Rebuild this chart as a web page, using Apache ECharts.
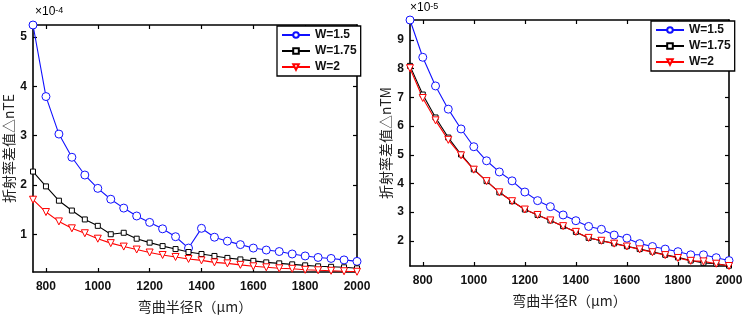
<!DOCTYPE html>
<html><head><meta charset="utf-8">
<script src="https://cdn.jsdelivr.net/npm/echarts@6/dist/echarts.min.js"></script>
<style>html,body{margin:0;padding:0;background:#fff}#c{width:744px;height:315px}</style>
</head><body><div id="c"></div>
<script>
const R = [750,800,850,900,950,1000,1050,1100,1150,1200,1250,1300,1350,1400,1450,1500,1550,1600,1650,1700,1750,1800,1850,1900,1950,2000];
// TE (x1e-4)
const te15 = [5.24,3.79,3.03,2.56,2.20,1.93,1.71,1.53,1.37,1.24,1.11,0.95,0.72,1.12,0.94,0.86,0.79,0.72,0.68,0.65,0.60,0.56,0.53,0.51,0.48,0.45];
const te175 = [2.27,1.97,1.68,1.48,1.30,1.17,1.00,1.03,0.91,0.83,0.76,0.70,0.64,0.60,0.56,0.52,0.49,0.46,0.43,0.41,0.39,0.37,0.35,0.34,0.33,0.31];
const te2 = [1.70,1.45,1.26,1.12,1.02,0.91,0.82,0.75,0.69,0.63,0.58,0.54,0.50,0.47,0.43,0.41,0.38,0.35,0.33,0.31,0.30,0.28,0.27,0.26,0.25,0.24];
// TM (x1e-5)
const tm15 = [9.70,8.40,7.40,6.59,5.90,5.28,4.79,4.40,4.09,3.70,3.40,3.19,2.90,2.70,2.50,2.40,2.20,2.09,1.90,1.80,1.71,1.62,1.51,1.51,1.41,1.31];
const tm175 = [8.10,7.10,6.30,5.60,5.01,4.49,4.08,3.69,3.38,3.09,2.90,2.71,2.51,2.31,2.10,2.00,1.91,1.81,1.71,1.62,1.51,1.42,1.31,1.23,1.20,1.13];
const tm2 = [8.02,6.98,6.20,5.52,4.98,4.48,4.08,3.69,3.38,3.09,2.90,2.71,2.51,2.31,2.10,2.00,1.90,1.80,1.70,1.60,1.50,1.40,1.30,1.28,1.20,1.12];
const xTicks = [800,1000,1200,1400,1600,1800,2000];
const yTicksTE = [1,2,3,4,5];
const yTicksTM = [2,3,4,5,6,7,8,9];
const names = ['W=1.5','W=1.75','W=2'];
const xName = '弯曲半径R（μm）';
const yNameTE = '折射率差值△nTE';
const yNameTM = '折射率差值△nTM';

const chart = echarts.init(document.getElementById('c'));
const labelFont = {fontFamily:'Liberation Sans', fontSize:12, fontWeight:'bold', color:'#111'};
const lineS = {color:'#000', width:1.6};
function xAx(gi, pos, xmin, xmax){
  const bottom = pos==='bottom';
  return {type:'value', gridIndex:gi, position:pos, min:xmin, max:xmax,
    name: bottom? xName : '', nameLocation:'middle', nameGap:28,
    nameTextStyle:{fontFamily:'Noto Sans CJK SC', fontSize:14, color:'#222'},
    axisLine:{onZero:false, lineStyle:lineS},
    axisTick:{inside:true, length:4, customValues:xTicks, lineStyle:{color:'#000',width:1.2}},
    axisLabel:{show:bottom, customValues:xTicks, margin:9, formatter:v=>String(v), ...labelFont},
    splitLine:{show:false}};
}
function yAx(gi, pos, ymin, ymax, ticks, nm){
  const left = pos==='left';
  return {type:'value', gridIndex:gi, position:pos, min:ymin, max:ymax,
    name: left? nm : '', nameLocation:'middle', nameGap:17, nameRotate:90,
    nameTextStyle:{fontFamily:'Noto Sans CJK SC', fontSize:14, color:'#222'},
    axisLine:{onZero:false, lineStyle:lineS},
    axisTick:{inside:true, length:4, customValues:ticks, lineStyle:{color:'#000',width:1.2}},
    axisLabel:{show:left, customValues:ticks, margin:6, formatter:v=>String(v), ...labelFont},
    splitLine:{show:false}};
}
const styles = [
  {color:'#1010ff', symbol:'circle', size:8},
  {color:'#000000', symbol:'rect', size:5},
  {color:'#ff0000', symbol:'triangle', size:7, rotate:180}
];
function ser(gi, name, vals, st){
  return {type:'line', name:name, xAxisIndex:gi*2, yAxisIndex:gi*2,
    data: R.map((r,i)=>[r, vals[i]]),
    symbol: st.symbol, symbolSize: st.size, symbolRotate: st.rotate||0,
    showAllSymbol:true, animation:false,
    lineStyle:{color:st.color, width:1.1},
    itemStyle:{color:'#fff', borderColor:st.color, borderWidth:1},
    emphasis:{disabled:true}};
}
const legendBase = {orient:'vertical', borderColor:'#000', borderWidth:1.3, backgroundColor:'#fff',
  padding:[3,4,3,4], itemGap:4, itemWidth:28, itemHeight:7, borderRadius:0,
  textStyle:{fontFamily:'Liberation Sans', fontSize:12, fontWeight:'bold', color:'#111'}, data:names, selectedMode:false};
chart.setOption({
  animation:false,
  grid:[{left:33, top:25, width:324, height:247, outerBoundsMode:'none', containLabel:false},
        {left:410, top:20, width:319, height:246, outerBoundsMode:'none', containLabel:false}],
  xAxis:[xAx(0,'bottom',750,2000), xAx(0,'top',750,2000), xAx(1,'bottom',750,2000), xAx(1,'top',750,2000)],
  yAxis:[yAx(0,'left',0.235,5.24,yTicksTE,yNameTE), yAx(0,'right',0.235,5.24,yTicksTE,''),
         yAx(1,'left',1.12,9.70,yTicksTM,yNameTM), yAx(1,'right',1.12,9.70,yTicksTM,'')],
  legend:[{...legendBase, left:277, top:26, width:74},{...legendBase, left:651, top:21, width:74}],
  graphic:[
    {type:'text', left:35, top:6, style:{text:'×10{s|-4}', rich:{s:{fontSize:9, verticalAlign:'top', fontFamily:'Liberation Sans'}}, fontSize:12, fontFamily:'Liberation Sans', fill:'#000'}},
    {type:'text', left:410, top:2, style:{text:'×10{s|-5}', rich:{s:{fontSize:9, verticalAlign:'top', fontFamily:'Liberation Sans'}}, fontSize:12, fontFamily:'Liberation Sans', fill:'#000'}}
  ],
  series:[
    ser(0,names[0],te15,styles[0]), ser(0,names[1],te175,styles[1]), ser(0,names[2],te2,styles[2]),
    ser(1,names[0],tm15,styles[0]), ser(1,names[1],tm175,styles[1]), ser(1,names[2],tm2,styles[2])
  ]
});
</script></body></html>
